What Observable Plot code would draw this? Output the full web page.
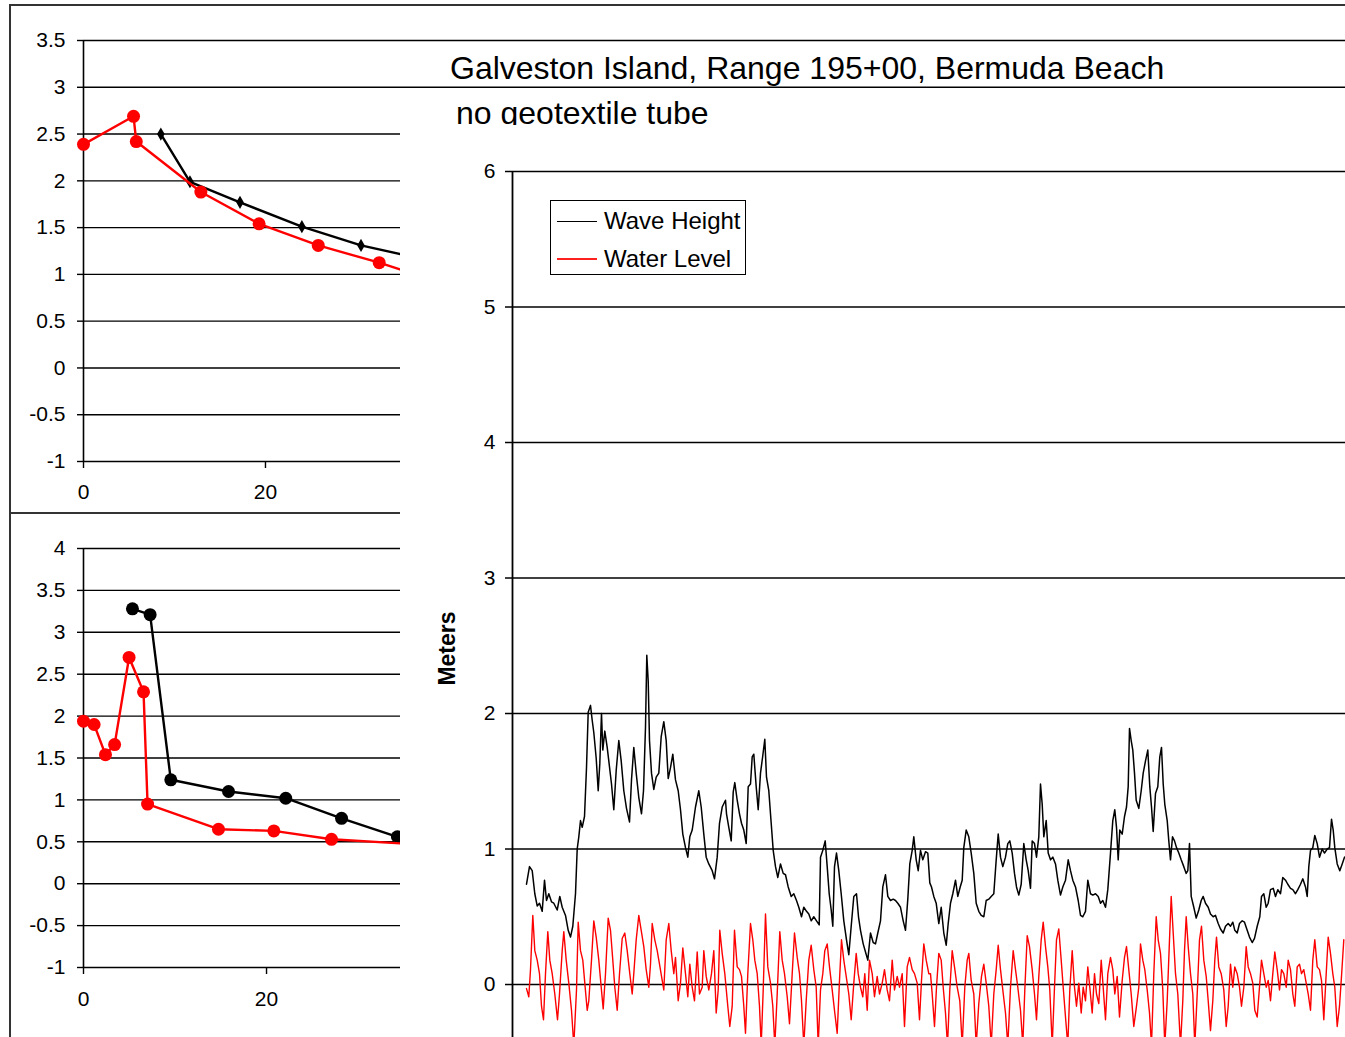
<!DOCTYPE html>
<html>
<head>
<meta charset="utf-8">
<script src="https://cdn.jsdelivr.net/npm/d3@7"></script>
<script src="https://cdn.jsdelivr.net/npm/@observablehq/plot@0.6"></script>
<style>
  html, body { margin: 0; padding: 0; background: #fff; }
  body { width: 1345px; height: 1037px; position: relative; overflow: hidden; font-family: "Liberation Sans", Arial, sans-serif; color: #000; }
  .abs { position: absolute; }
  .clip { overflow: hidden; }
  #title { left: 450px; top: 52px; font-size: 32px; line-height: 32px; white-space: nowrap; z-index: 2; }
  #subtitle { left: 456px; top: 97px; font-size: 32px; line-height: 32px; white-space: nowrap; z-index: 2; }
  #topLeft { left: 0; top: 0; width: 1345px; height: 513px; z-index: 1; }
  #bottomLeft { left: 0; top: 513px; width: 400px; height: 524px; z-index: 1; }
  #mainPanel { left: 400px; top: 125px; width: 945px; height: 912px; z-index: 3; background: #fff; }
  #legend { left: 550px; top: 200px; width: 194px; height: 73px; border: 1.5px solid #000; z-index: 4; background: #fff; font-size: 24px; }
  .row { position: absolute; left: 6px; height: 30px; display: flex; align-items: center; white-space: nowrap; }
  .swatch { width: 40px; height: 0; margin-right: 7px; }
  #frameTop { left: 9px; top: 4px; width: 1340px; height: 0; border-top: 2px solid #333; z-index: 6; }
  #frameLeft { left: 9px; top: 4px; width: 0; height: 1040px; border-left: 2px solid #333; z-index: 6; }
  #frameSep { left: 9px; top: 512px; width: 391px; height: 0; border-top: 2px solid #333; z-index: 6; }
</style>
</head>
<body>
<div id="frameTop" class="abs"></div>
<div id="frameLeft" class="abs"></div>
<div id="frameSep" class="abs"></div>
<div id="topLeft" class="abs clip"></div>
<div id="bottomLeft" class="abs clip"></div>
<div id="title" class="abs">Galveston Island, Range 195+00, Bermuda Beach</div>
<div id="subtitle" class="abs">no geotextile tube</div>
<div id="mainPanel" class="abs clip"></div>
<div id="legend" class="abs">
  <div class="row" style="top:5px"><span class="swatch" style="border-top:1.5px solid #000"></span><span id="lg1"></span></div>
  <div class="row" style="top:43px"><span class="swatch" style="border-top:2px solid #ff2020"></span><span id="lg2"></span></div>
</div>
<script>
// ---------- data ----------
const seriesNames = ["Wave Height", "Water Level"];

// upper-left profile chart
const topWaveX  = [8.5, 11.7, 17.2, 24.0, 30.5, 37.0];
const topWaveY  = [2.50, 1.99, 1.77, 1.51, 1.31, 1.17];
const topLevelX = [0, 5.5, 5.8, 12.9, 19.3, 25.8, 32.5, 39.0];
const topLevelY = [2.39, 2.69, 2.42, 1.88, 1.54, 1.31, 1.125, 0.92];
const topTicksY = [-1, -0.5, 0, 0.5, 1, 1.5, 2, 2.5, 3, 3.5];

// lower-left profile chart
const botWaveX  = [5.35, 7.28, 9.54, 15.85, 22.1, 28.2, 34.3];
const botWaveY  = [3.28, 3.21, 1.24, 1.10, 1.02, 0.78, 0.56];
const botLevelX = [0, 1.16, 2.4, 3.4, 4.98, 6.56, 7.0, 14.75, 20.8, 27.1, 37.0];
const botLevelY = [1.94, 1.90, 1.54, 1.66, 2.70, 2.29, 0.95, 0.65, 0.63, 0.53, 0.465];
const botTicksY = [-1, -0.5, 0, 0.5, 1, 1.5, 2, 2.5, 3, 3.5, 4];
const leftTicksX = [0, 20];

// main time series (time in hours from start of record)
const mainTicksY = [0, 1, 2, 3, 4, 5, 6];
const waveTime = [
  14,17,19.7,22.3,24.7,27,29.7,32,34,36.3, 39,41.3,44.7,47.3,49.7,53,55.7,58,60.3,63,
  64.7,66.3,68,69.7,72,74,75.7,78,79.7,81.3, 83.7,85.7,87.3,89,90.3,92.3,94.7,96.3,99,101.3,
  103.7,106.3,108.7,111.3,114,117,119,121.3,123.7,126.3, 129,131,133,134.3,135.7,137,139,141.3,143.7,146.3,
  148.7,151.3,153.7,155.7,158,160.3,163,165.7,168,170.3, 173,175.3,177.3,179.7,183,186.3,188.7,191.3,193.7,196.3,
  199.7,202,204.7,207,209.7,213,
  214,216.3,218.7,220.7,222.3,224.7,227,229,231.3,233.7, 235.7,238,239.7,241.3,243.7,245.7,248,250.3,252.3,254,
  256.3,258.7,260.7,263,265.3,268,270.7,273,275.7,278.7, 281.3,284,286.3,289,291.3,294,296.3,298.7,301.3,304,
  306.7,308,310.3,312.7,314.7,316.7,318.7,320.3,322,324, 326.3,328.7,331.3,334,336.3,338.7,341.3,344,346,348,
  350.7,353,355.3,358,360.7,363,365.3,368,370.3,373, 375.3,378,380.7,383,385.3,388,390.7,393,395.3,397.3,
  399.7,401.3,403.7,405.7,408,410.3,413,415.3,417.3,
  419,421.3,423.7,426.3,428.7,431.3,433.7,435.7,438,440.3, 443,445.3,447.7,449.7,451.3,453.7,456.3,458.7,461.3,463.7,
  466.3,468.7,471.3,473.7,476.3,478.7,481.3,483.7,485.7,488, 490.3,493,495.3,497.3,499.7,502,504,506.3,508.7,511.3,
  513.7,515.7,518,519.7,522,524,526.3,528,529.7,531.3, 533.7,535.7,538,540.3,543,545.3,548,550.3,553,555.7,
  558,560.3,563,565.7,568,570.3,573,575.3,578,580.3, 583,585.7,588,590.3,593,595.3,598,600.3,602.3,604,
  605.7,607.3,609.7,612,614,615.7,617,618.7,620.3,
  622,623.7,626.3,628.7,630.7,633,635.3,637.3,639,640.7, 643,645.3,647.3,649,650.7,652.3,654.7,656.3,658,660,
  662,664,666.3,668.7,671.3,673.7,675.3,677,678.7,681.3, 683.7,686.3,688.7,690.7,693,695.7,698,700.7,703,705.7,
  708,710.7,713,715.7,718,720.3,722.3,724.7,727,729.7, 732,734.7,737,739.7,742,744.7,747.3,749,751.3,753.7,
  755.7,758,760.7,763,765.3,768,770.3,773,775.3,778, 780.3,783,785.3,788,790.3,793,794.7,796.3,798,800.3,
  802.3,804.7,807,809.7,812,814.7,817,819,820.7,822.3, 824.7,827.3,829.7,832
];
const waveHeight = [
  0.74,0.87,0.84,0.67,0.58,0.60,0.54,0.77,0.62,0.67, 0.61,0.60,0.55,0.65,0.57,0.51,0.40,0.35,0.43,0.67,
  1.00,1.09,1.21,1.16,1.24,1.60,2.01,2.06,1.95,1.86, 1.67,1.43,1.63,2.00,1.73,1.87,1.75,1.65,1.48,1.29,
  1.58,1.80,1.65,1.43,1.30,1.20,1.51,1.75,1.56,1.38, 1.26,1.43,1.90,2.43,2.24,1.80,1.56,1.44,1.53,1.56,
  1.83,1.94,1.80,1.52,1.60,1.70,1.51,1.43,1.29,1.11, 1.01,0.94,1.09,1.14,1.31,1.43,1.31,1.11,0.94,0.89,
  0.84,0.78,0.94,1.19,1.31,1.36,
  1.26,1.16,1.06,1.42,1.49,1.36,1.26,1.19,1.14,1.04, 1.46,1.48,1.68,1.70,1.46,1.29,1.56,1.69,1.81,1.53,
  1.43,1.19,0.99,0.87,0.79,0.89,0.82,0.81,0.72,0.65, 0.67,0.62,0.57,0.50,0.57,0.54,0.52,0.47,0.50,0.47,
  0.44,0.94,0.99,1.06,0.87,0.67,0.55,0.43,0.87,0.97, 0.84,0.67,0.47,0.33,0.22,0.43,0.65,0.67,0.50,0.40,
  0.30,0.24,0.18,0.38,0.31,0.30,0.38,0.47,0.72,0.81, 0.65,0.62,0.63,0.62,0.60,0.57,0.47,0.40,0.63,0.89,
  0.99,1.09,0.92,0.84,0.99,0.92,0.98,0.97,0.75,
  0.72,0.65,0.60,0.45,0.57,0.38,0.29,0.45,0.60,0.67, 0.77,0.65,0.72,0.77,1.01,1.14,1.09,0.97,0.82,0.60,
  0.54,0.51,0.50,0.62,0.63,0.65,0.67,0.92,1.11,0.94, 0.87,0.94,1.04,1.06,0.97,0.82,0.72,0.66,0.74,1.04,
  0.92,0.84,0.71,1.06,1.04,0.94,1.09,1.48,1.33,1.09, 1.21,0.97,0.92,0.94,0.89,0.77,0.66,0.72,0.77,0.92,
  0.84,0.77,0.72,0.62,0.51,0.50,0.54,0.77,0.67,0.66, 0.67,0.65,0.60,0.62,0.57,0.70,0.97,1.21,1.29,1.16,
  0.92,1.14,1.11,1.24,1.31,1.46,1.89,1.80,1.73,
  1.56,1.36,1.30,1.43,1.56,1.65,1.73,1.46,1.31,1.13, 1.41,1.46,1.68,1.75,1.48,1.33,1.21,1.06,0.92,1.09,
  1.06,1.01,0.97,0.92,0.87,0.82,0.84,1.04,0.65,0.57, 0.49,0.55,0.62,0.65,0.60,0.57,0.52,0.50,0.51,0.45,
  0.41,0.38,0.43,0.45,0.43,0.46,0.40,0.38,0.45,0.47, 0.46,0.40,0.35,0.31,0.34,0.43,0.50,0.65,0.67,0.57,
  0.60,0.70,0.71,0.65,0.70,0.67,0.79,0.77,0.74,0.71, 0.70,0.67,0.70,0.74,0.78,0.72,0.65,0.87,0.99,1.01,
  1.10,1.04,0.94,1.00,0.97,1.00,1.01,1.22,1.14,1.01, 0.89,0.84,0.89,0.94
];
const levelTime = [
  14,16.3,18,20.3,22.3,24.7,27,29,31,33, 35.3,37.3,39.7,42.3,45,47,49.7,51.3,53.7,56.3,
  59,61.3,64,65.7,68,70.3,72.3,74.7,76.3,79, 81.3,83.7,86.3,88.7,90.7,93,95.7,98,100.3,102.3,
  104.7,107,109.7,112.3,114.7,117.3,119.7,121.3,123.7,126.3, 128.7,131.3,133.7,136.3,138,139.7,142.3,144.7,147,149.7,
  151.3,153.7,156.3,158.7,161.3,163,165.7,168,170.3,173, 175.3,177.3,179.7,182,184.7,187,189.7,191.3,193.7,196.3,
  199,201.3,203.7,205.7,207.3,209.7,212.3,
  215.3,217.3,219.7,222,224.7,227,229,231.3,233,235.3, 238,240.3,242.3,244.7,247,248.7,250.7,253,255.3,258,
  260.3,262.3,264.7,267.3,269.7,272,274.7,277,279.7,282, 284.7,287,289,291.3,293.7,296.3,298.7,301.3,303.7,305.7,
  308,310.3,312.3,314.7,317,319.7,322.3,324.7,327,329, 331.3,333.7,336.3,338.7,341.3,343.7,345.7,348,350.3,352.3,
  354.7,357,359.7,362,364.7,367,369.7,372,374.7,377, 379.7,382,384.7,387,389.7,392,394.7,397,399.7,402,
  404.7,407,409,411.3,413.7,416.3,
  418,419.7,422,424,426.3,428.7,430.7,433,435,437.3, 439.7,442,444.7,447.3,449.7,452.3,454.7,456.3,458.7,461.3,
  463.7,466.3,469,471.3,473.7,476.3,478.7,481.3,483.7,485.7, 488,490.3,493,495.3,498,500.7,503,505.3,508,510.3,
  512.3,514.7,517,519.7,522,524,526.3,528.7,530.7,533, 535.3,537.3,539.7,542,544,546.3,548.7,550.7,553,555.3,
  557.3,559.7,562,564,566.3,568.7,570.7,573,575.3,577.3, 579.7,582,584,586.3,588.7,590.7,593,595.3,598,600.3,
  602.3,604.7,607,609.7,612,614,616.3,618.7,621.3,
  624,626.3,628,630.3,632.3,634.7,637,639,641.3,643.7, 645.7,648,650.3,652.3,654.7,657,658.7,660.7,663,665.3,
  668,670.3,672,673.7,675.7,678,680.3,682.3,684.7,687, 689,691.3,693.7,695.7,698,700.3,702.3,704,706.3,708.7,
  711.3,713.7,715.7,718,720.3,722.3,724.7,727,729,731.3, 733.7,735.7,738,740.3,742.3,744.7,747,749,751.3,753.7,
  755.7,758,760.3,762.3,764.7,767,769,771.3,773.7,775.7, 778,780.3,782.3,784.7,787,789,791.3,793.7,795.7,798,
  800.3,802.3,804.7,807,809,811.3,813.7,815.7,818,820.3, 822.3,824.7,827,829,831.3
];
const waterLevel = [
  -0.03,-0.09,0.11,0.51,0.25,0.18,0.08,-0.16,-0.26,0.08, 0.39,0.18,0.08,-0.07,-0.26,-0.07,0.25,0.39,0.18,0.01,
  -0.19,-0.45,-0.04,0.46,0.25,0.18,0.01,-0.19,-0.12,0.18, 0.47,0.35,0.18,-0.02,-0.18,0.08,0.49,0.40,0.18,-0.02,
  -0.19,0.08,0.34,0.38,0.25,0.08,-0.07,0.08,0.33,0.51, 0.40,0.28,0.11,-0.02,0.15,0.45,0.33,0.25,0.15,0.03,
  -0.04,0.33,0.45,0.25,0.08,0.20,-0.12,0.01,0.27,0.08, -0.09,0.15,-0.02,-0.12,0.24,-0.07,-0.02,0.25,0.06,-0.04,
  0.08,0.25,-0.21,-0.04,0.40,0.23,0.08,
  -0.16,-0.31,-0.16,0.40,0.13,0.11,0.06,-0.16,-0.36,0.08, 0.45,0.33,0.18,0.08,-0.16,-0.45,-0.04,0.52,0.13,0.01,
  -0.16,-0.45,-0.07,0.39,0.18,0.08,-0.09,-0.29,0.08,0.38, 0.20,0.08,-0.12,-0.45,-0.12,0.18,0.29,0.11,-0.02,-0.45,
  -0.04,0.08,0.25,0.30,0.13,-0.04,-0.21,-0.36,0.03,0.33, 0.18,0.06,-0.07,-0.26,0.01,0.23,0.08,-0.02,-0.09,0.08,
  -0.19,0.18,0.08,-0.09,0.06,-0.07,0.01,0.11,-0.04,-0.12, 0.18,-0.04,0.06,-0.02,0.08,-0.31,0.13,0.20,0.11,0.08,
  0.01,-0.26,0.03,0.30,0.18,0.08,
  0.08,-0.07,-0.31,-0.02,0.23,0.18,-0.02,-0.21,-0.45,-0.04, 0.25,0.13,-0.02,-0.12,-0.45,-0.02,0.18,0.23,0.03,-0.07,
  -0.45,-0.14,0.06,0.15,0.01,-0.16,-0.45,-0.07,0.11,0.29, 0.11,-0.04,-0.21,-0.45,-0.02,0.25,0.11,-0.02,-0.19,-0.45,
  -0.04,0.36,0.28,0.11,-0.07,-0.26,0.06,0.33,0.46,0.28, 0.13,-0.04,-0.45,-0.02,0.33,0.41,0.18,-0.02,-0.24,-0.45,
  -0.04,0.25,-0.02,-0.16,0.01,-0.21,-0.02,-0.12,0.13,-0.02, -0.21,0.08,-0.07,-0.14,0.18,-0.02,-0.26,0.08,0.20,0.11,
  -0.07,0.06,-0.24,0.03,0.20,0.28,0.11,-0.07,-0.31,
  -0.16,-0.02,0.30,0.18,0.11,-0.04,-0.21,-0.45,0.08,0.50, 0.33,0.23,-0.04,-0.45,-0.12,0.33,0.65,0.38,0.08,-0.07,
  -0.45,-0.12,0.25,0.50,0.28,0.08,-0.07,-0.45,-0.07,0.33, 0.43,0.18,0.06,-0.12,-0.34,-0.12,0.18,0.35,0.13,0.08,
  -0.04,-0.31,-0.16,0.15,-0.02,0.13,0.08,-0.02,-0.16,-0.02, 0.28,0.13,0.08,0.01,-0.19,-0.24,-0.02,0.18,0.08,-0.02,
  0.03,-0.12,0.08,0.24,0.11,-0.04,0.11,0.08,-0.02,0.18, 0.11,-0.07,-0.16,0.13,0.15,0.08,0.11,0.01,-0.07,-0.19,
  0.18,0.33,0.13,0.11,0.03,-0.26,0.08,0.35,0.23,0.08, -0.02,-0.31,-0.16,0.06,0.33
];

// ---------- build ----------
const FONT = "Liberation Sans, Arial, sans-serif";
const fmt = d => String(d);
const pairs = (xs, ys) => xs.map((x, i) => ({x, y: ys[i]}));

document.getElementById("lg1").textContent = seriesNames[0];
document.getElementById("lg2").textContent = seriesNames[1];

// upper-left chart
const topChart = Plot.plot({
  width: 1345, height: 513,
  marginLeft: 83, marginRight: 0, marginTop: 40, marginBottom: 52,
  x: {domain: [0, 138.7]},
  y: {domain: [-1, 3.5]},
  style: {fontFamily: FONT, background: "transparent", color: "#000", overflow: "hidden"},
  marks: [
    Plot.gridY(topTicksY, {stroke: "#000", strokeOpacity: 1, strokeWidth: 1.4}),
    Plot.axisY(topTicksY, {tickSize: 6, tickPadding: 12, fontSize: 21, tickFormat: fmt, label: null, strokeWidth: 1.4}),
    Plot.axisX(leftTicksX, {tickSize: 7, tickPadding: 16, fontSize: 21, tickFormat: fmt, label: null, strokeWidth: 1.4}),
    Plot.ruleX([0], {stroke: "#000", strokeWidth: 1.6}),
    Plot.line(pairs(topWaveX, topWaveY), {x: "x", y: "y", stroke: "#000", strokeWidth: 2.4, clip: true}),
    Plot.dot(pairs(topWaveX, topWaveY), {x: "x", y: "y", symbol: "diamond", r: 4, fill: "#000"}),
    Plot.line(pairs(topLevelX, topLevelY), {x: "x", y: "y", stroke: "#ff0000", strokeWidth: 2.4, clip: true}),
    Plot.dot(pairs(topLevelX, topLevelY), {x: "x", y: "y", r: 6.5, fill: "#ff0000"})
  ]
});
document.getElementById("topLeft").appendChild(topChart);

// lower-left chart
const botChart = Plot.plot({
  width: 400, height: 524,
  marginLeft: 83, marginRight: 0, marginTop: 35, marginBottom: 70,
  x: {domain: [0, 34.64]},
  y: {domain: [-1, 4]},
  style: {fontFamily: FONT, background: "transparent", color: "#000", overflow: "hidden"},
  marks: [
    Plot.gridY(botTicksY, {stroke: "#000", strokeOpacity: 1, strokeWidth: 1.4}),
    Plot.axisY(botTicksY, {tickSize: 6, tickPadding: 12, fontSize: 21, tickFormat: fmt, label: null, strokeWidth: 1.4}),
    Plot.axisX(leftTicksX, {tickSize: 7, tickPadding: 17, fontSize: 21, tickFormat: fmt, label: null, strokeWidth: 1.4}),
    Plot.ruleX([0], {stroke: "#000", strokeWidth: 1.6}),
    Plot.line(pairs(botWaveX, botWaveY), {x: "x", y: "y", stroke: "#000", strokeWidth: 2.4}),
    Plot.dot(pairs(botWaveX, botWaveY), {x: "x", y: "y", r: 6.5, fill: "#000"}),
    Plot.line(pairs(botLevelX, botLevelY), {x: "x", y: "y", stroke: "#ff0000", strokeWidth: 2.4, clip: true}),
    Plot.dot(pairs(botLevelX, botLevelY), {x: "x", y: "y", r: 6.5, fill: "#ff0000"})
  ]
});
document.getElementById("bottomLeft").appendChild(botChart);

// main time-series chart
const mainChart = Plot.plot({
  width: 945, height: 912,
  marginLeft: 112, marginRight: 0, marginTop: 46, marginBottom: 0,
  x: {domain: [0, 833], axis: null},
  y: {domain: [-0.391, 6], axis: null},
  style: {fontFamily: FONT, background: "#fff", color: "#000", overflow: "hidden"},
  marks: [
    Plot.gridY(mainTicksY, {stroke: "#000", strokeOpacity: 1, strokeWidth: 1.5}),
    Plot.axisY(mainTicksY, {tickSize: 7, tickPadding: 10, fontSize: 21, tickFormat: fmt, label: null, strokeWidth: 1.5}),
    Plot.ruleX([0], {stroke: "#000", strokeWidth: 1.8}),
    Plot.line(pairs(waveTime, waveHeight), {x: "x", y: "y", stroke: "#000", strokeWidth: 1.5, clip: true}),
    Plot.line(pairs(levelTime, waterLevel), {x: "x", y: "y", stroke: "#ff0000", strokeWidth: 1.4, clip: true}),
    Plot.text(["Meters"], {text: d => d, frameAnchor: "left", textAnchor: "middle", dx: -65, dy: 44, rotate: -90, fontSize: 23, fontWeight: "bold", fill: "#000"})
  ]
});
document.getElementById("mainPanel").appendChild(mainChart);
</script>
</body>
</html>
